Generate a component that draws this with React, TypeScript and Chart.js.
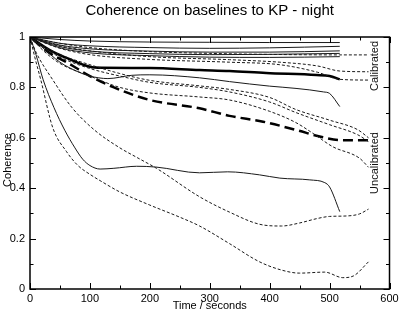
import { useEffect, useRef } from "react";
import { Chart, registerables } from "chart.js";

Chart.register(...registerables);

const FONT = "'Liberation Sans', Arial, Helvetica, sans-serif";

const TITLE = "Coherence on baselines to KP - night";
const X_TITLE = "Time / seconds";
const Y_TITLE = "Coherence";
const X_MIN = 0;
const X_MAX = 600;
const X_STEP = 100;
const Y_MIN = 0;
const Y_MAX = 1;
const Y_STEP = 0.2;

const SIDE_LABELS = ["Calibrated", "Uncalibrated"];
const SIDE_LABEL_T = [575, 575];
const SIDE_LABEL_C = [0.885, 0.5];

// Calibrated baselines (solid), [time s, coherence]
const cal1: [number, number][] = [[0, 1], [50, 0.99], [100, 0.984], [200, 0.98], [300, 0.979], [400, 0.978], [517, 0.978]];
const cal2: [number, number][] = [[0, 1], [50, 0.975], [100, 0.965], [200, 0.958], [300, 0.955], [400, 0.957], [517, 0.963]];
const cal3: [number, number][] = [[0, 1], [50, 0.968], [100, 0.953], [200, 0.944], [300, 0.94], [400, 0.94], [517, 0.945]];
const cal4: [number, number][] = [[0, 1], [50, 0.962], [100, 0.944], [200, 0.934], [300, 0.93], [400, 0.931], [517, 0.935]];
const cal5: [number, number][] = [[0, 1], [50, 0.957], [100, 0.937], [200, 0.926], [300, 0.92], [400, 0.919], [517, 0.922]];
const cal6: [number, number][] = [[0, 1], [20, 0.96], [50, 0.9], [80, 0.862], [100, 0.845], [130, 0.835], [170, 0.848], [200, 0.85], [283, 0.838], [333, 0.823], [400, 0.805], [444, 0.796], [490, 0.782], [500, 0.776], [517, 0.724]];
const cal7: [number, number][] = [[0, 1], [10, 0.93], [22, 0.83], [40, 0.72], [58, 0.63], [75, 0.56], [88, 0.515], [100, 0.49], [117, 0.476], [140, 0.479], [178, 0.487], [210, 0.484], [283, 0.461], [330, 0.465], [383, 0.453], [417, 0.44], [467, 0.433], [492, 0.422], [500, 0.405], [517, 0.307]];
const calMean: [number, number][] = [[0, 1], [33, 0.948], [60, 0.918], [100, 0.882], [120, 0.878], [200, 0.877], [283, 0.869], [333, 0.865], [394, 0.857], [478, 0.849], [500, 0.845], [517, 0.832]];

// Uncalibrated baselines (dashed), [time s, coherence]
const unc1: [number, number][] = [[0, 1], [50, 0.975], [100, 0.958], [200, 0.942], [300, 0.935], [400, 0.931], [517, 0.929], [565, 0.929]];
const unc2: [number, number][] = [[0, 1], [50, 0.965], [100, 0.945], [200, 0.922], [333, 0.91], [417, 0.9], [480, 0.885], [517, 0.865], [565, 0.862]];
const unc3: [number, number][] = [[0, 1], [50, 0.955], [100, 0.93], [200, 0.911], [333, 0.9], [417, 0.89], [480, 0.86], [517, 0.832], [565, 0.829]];
const unc4: [number, number][] = [[0, 1], [25, 0.96], [50, 0.93], [100, 0.89], [150, 0.855], [200, 0.828], [283, 0.806], [333, 0.792], [400, 0.76], [444, 0.712], [500, 0.67], [547, 0.632], [565, 0.6]];
const unc5: [number, number][] = [[0, 1], [25, 0.955], [50, 0.92], [100, 0.875], [150, 0.845], [200, 0.82], [283, 0.8], [333, 0.782], [400, 0.742], [444, 0.7], [500, 0.652], [547, 0.612], [565, 0.585]];
const unc6: [number, number][] = [[0, 1], [25, 0.94], [50, 0.895], [100, 0.845], [150, 0.8], [200, 0.778], [283, 0.762], [333, 0.75], [400, 0.705], [444, 0.66], [472, 0.618], [505, 0.565], [550, 0.519], [565, 0.483]];
const unc7: [number, number][] = [[0, 1], [10, 0.94], [38, 0.83], [70, 0.72], [108, 0.63], [150, 0.56], [180, 0.52], [211, 0.479], [283, 0.366], [333, 0.305], [383, 0.257], [420, 0.25], [450, 0.262], [480, 0.28], [500, 0.288], [530, 0.29], [550, 0.298], [565, 0.317]];
const unc8: [number, number][] = [[0, 1], [8, 0.92], [18, 0.83], [38, 0.64], [61, 0.545], [80, 0.49], [100, 0.455], [117, 0.43], [150, 0.385], [200, 0.333], [250, 0.285], [283, 0.25], [333, 0.18], [383, 0.108], [420, 0.075], [450, 0.063], [492, 0.067], [522, 0.045], [540, 0.052], [565, 0.108]];
const uncMean: [number, number][] = [[5, 0.99], [33, 0.936], [61, 0.9], [100, 0.845], [140, 0.8], [200, 0.75], [283, 0.717], [333, 0.687], [389, 0.664], [444, 0.631], [489, 0.602], [517, 0.591], [565, 0.59]];

const CAL_SERIES = [cal1, cal2, cal3, cal4, cal5, cal6, cal7];
const UNC_SERIES = [unc1, unc2, unc3, unc4, unc5, unc6, unc7, unc8];

const toPoints = (s: [number, number][]) => s.map(([x, y]) => ({ x, y }));

const framePlugin = {
  id: "frameTicks",
  afterDatasetsDraw(chart: any) {
    const { ctx, chartArea: a, scales } = chart;
    const xs = scales.x;
    const ys = scales.y;
    ctx.save();
    ctx.strokeStyle = "#000";
    ctx.lineWidth = 1;
    const nx = Math.round((X_MAX - X_MIN) / (X_STEP / 2));
    for (let i = 0; i <= nx; i++) {
      const v = X_MIN + (i * X_STEP) / 2;
      const px = Math.round(xs.getPixelForValue(v)) + 0.5;
      const len = i % 2 === 0 ? 6 : 3.5;
      ctx.beginPath();
      ctx.moveTo(px, a.bottom);
      ctx.lineTo(px, a.bottom - len);
      ctx.moveTo(px, a.top);
      ctx.lineTo(px, a.top + len);
      ctx.stroke();
    }
    const ny = Math.round((Y_MAX - Y_MIN) / (Y_STEP / 2));
    for (let i = 0; i <= ny; i++) {
      const v = Y_MIN + (i * Y_STEP) / 2;
      const py = Math.round(ys.getPixelForValue(v)) + 0.5;
      const len = i % 2 === 0 ? 6 : 3.5;
      ctx.beginPath();
      ctx.moveTo(a.left, py);
      ctx.lineTo(a.left + len, py);
      ctx.moveTo(a.right, py);
      ctx.lineTo(a.right - len, py);
      ctx.stroke();
    }
    ctx.lineWidth = 1.5;
    ctx.strokeRect(a.left, a.top, a.right - a.left, a.bottom - a.top);

    ctx.fillStyle = "#111";
    ctx.font = `11px ${FONT}`;
    ctx.textAlign = "center";
    ctx.textBaseline = "middle";
    SIDE_LABELS.forEach((txt, i) => {
      const px = xs.getPixelForValue(SIDE_LABEL_T[i]);
      const py = ys.getPixelForValue(SIDE_LABEL_C[i]);
      ctx.save();
      ctx.translate(px, py);
      ctx.rotate(-Math.PI / 2);
      ctx.fillText(txt, 0, 0);
      ctx.restore();
    });

    // y axis title
    ctx.fillStyle = "#000";
    ctx.save();
    ctx.translate(8, (a.top + a.bottom) / 2 - 3);
    ctx.rotate(-Math.PI / 2);
    ctx.fillText(Y_TITLE, 0, 0);
    ctx.restore();
    ctx.restore();
  },
};

export default function App() {
  const ref = useRef<HTMLCanvasElement | null>(null);

  useEffect(() => {
    document.body.style.margin = "0";
    const canvas = ref.current;
    if (!canvas) return;

    const thin = (s: [number, number][], dashed: boolean) => ({
      data: toPoints(s),
      borderColor: "#1a1a1a",
      borderWidth: 1,
      borderDash: dashed ? [3, 2] : [],
      pointRadius: 0,
      fill: false,
      cubicInterpolationMode: "monotone" as const,
    });

    const datasets: any[] = [
      ...UNC_SERIES.map((s) => thin(s, true)),
      ...CAL_SERIES.map((s) => thin(s, false)),
      {
        data: toPoints(uncMean),
        borderColor: "#000",
        borderWidth: 2.5,
        borderDash: [10, 5],
        pointRadius: 0,
        fill: false,
        cubicInterpolationMode: "monotone",
      },
      {
        data: toPoints(calMean),
        borderColor: "#000",
        borderWidth: 2.5,
        pointRadius: 0,
        fill: false,
        cubicInterpolationMode: "monotone",
      },
    ];

    const chart = new Chart(canvas, {
      type: "line",
      data: { datasets },
      plugins: [framePlugin],
      options: {
        animation: false,
        responsive: false,
        devicePixelRatio: 1,
        layout: { padding: { left: 0, right: 9.5, top: 0, bottom: 0 } },
        plugins: {
          legend: { display: false },
          tooltip: { enabled: false },
          title: {
            display: true,
            text: TITLE,
            fullSize: false,
            color: "#000",
            font: { family: FONT, size: 15, weight: "normal" },
            padding: { top: 2, bottom: 17 },
          },
        },
        scales: {
          x: {
            type: "linear",
            min: X_MIN,
            max: X_MAX,
            grid: { display: false, drawTicks: false },
            border: { display: false },
            ticks: {
              stepSize: X_STEP,
              color: "#000",
              padding: 3,
              maxRotation: 0,
              font: { family: FONT, size: 11 },
            },
            title: {
              display: true,
              text: X_TITLE,
              color: "#000",
              padding: { top: 0, bottom: 0 },
              font: { family: FONT, size: 11 },
            },
            afterFit: (s: any) => {
              s.height = 24;
              s.paddingLeft = 0;
              s.paddingRight = 0;
            },
          },
          y: {
            type: "linear",
            min: Y_MIN,
            max: Y_MAX,
            grid: { display: false, drawTicks: false },
            border: { display: false },
            ticks: {
              stepSize: Y_STEP,
              color: "#000",
              padding: 5,
              font: { family: FONT, size: 11 },
              callback: (v: any) => String(Number(Number(v).toFixed(1))),
            },
            title: { display: false },
            afterFit: (s: any) => {
              s.width = 30;
              s.paddingTop = 0;
              s.paddingBottom = 0;
            },
          },
        },
      },
    });

    return () => chart.destroy();
  }, []);

  return (
    <div style={{ position: "absolute", left: 0, top: 0, width: 399, height: 313 }}>
      <canvas ref={ref} width={399} height={313} style={{ display: "block" }} />
    </div>
  );
}
